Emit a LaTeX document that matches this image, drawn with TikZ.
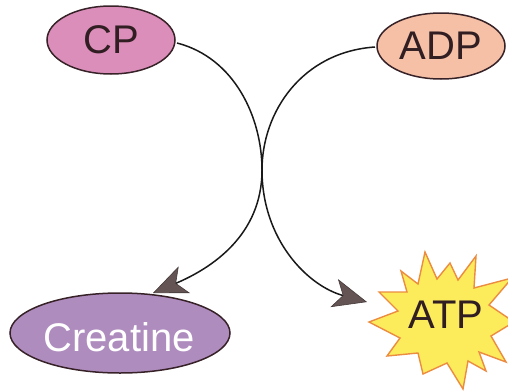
\documentclass[tikz,border=0pt]{standalone}
\usepackage{fontspec}
\setmainfont{Liberation Sans}
\usetikzlibrary{shapes.geometric,arrows.meta}
\definecolor{cpfill}{RGB}{220,142,186}
\definecolor{adpfill}{RGB}{246,192,166}
\definecolor{crfill}{RGB}{174,140,190}
\definecolor{outl}{RGB}{55,34,40}
\definecolor{txt}{RGB}{48,30,34}
\definecolor{headc}{RGB}{100,84,84}
\definecolor{headl}{RGB}{70,58,58}
\definecolor{starfill}{RGB}{252,236,92}
\definecolor{starline}{RGB}{236,140,64}
\tikzset{
  blob/.style={ellipse, draw=outl, line width=1.5pt, inner sep=0pt, text=txt,
    font=\fontsize{40}{40}\selectfont},
  conn/.style={draw=black!90, line width=1.5pt,
    -{Stealth[length=34pt,width=29pt,inset=9pt,color=headl,fill=headc,line width=0.6pt]}},
  label/.style={inner sep=0pt, font=\fontsize{40}{40}\selectfont}
}
\begin{document}
\begin{tikzpicture}[x=1pt,y=-1pt]
\useasboundingbox (0,0) rectangle (508,391);
\begin{scope}
\clip (0,0) rectangle (508,391);
% star
\filldraw[fill=starfill, draw=starline, line width=1.4pt]
 (425,252) -- (437,279) -- (450,263) -- (458,280) -- (476,256) -- (474,288)
 -- (512,278) -- (489,305) -- (514,322) -- (491,336) -- (506,362) -- (479,352)
 -- (486,371) -- (468,361) -- (463,389) -- (447,363) -- (423,374) -- (418,353)
 -- (387,356) -- (400,338) -- (369,322) -- (398,311) -- (379,292) -- (407,292)
 -- (401,271) -- (418,284) -- cycle;
\end{scope}
\node[label, text=txt] (atp) at (446,315) {ATP};
\node[blob, fill=cpfill, minimum width=128pt, minimum height=68pt] (cp) at (111,40) {CP};
\node[blob, fill=adpfill, minimum width=128pt, minimum height=66pt] (adp) at (441,46) {ADP};
\node[blob, fill=crfill, minimum width=220pt, minimum height=80pt, text=white] (cr) at (120,333) {};
\node[label, text=white] (crt) at (119,337) {Creatine};
\coordinate (cpout) at (177,43);
\coordinate (adpout) at (375,47);
\coordinate (crtip) at (153,293);
\coordinate (atptip) at (367,302);
\draw[conn] (cpout) .. controls (235,58) and (262,118) .. (262,170)
  .. controls (262,235) and (212,268) .. (crtip);
\draw[conn] (adpout) .. controls (302,52) and (262,112) .. (262,170)
  .. controls (262,240) and (308,286) .. (atptip);
\end{tikzpicture}
\end{document}
